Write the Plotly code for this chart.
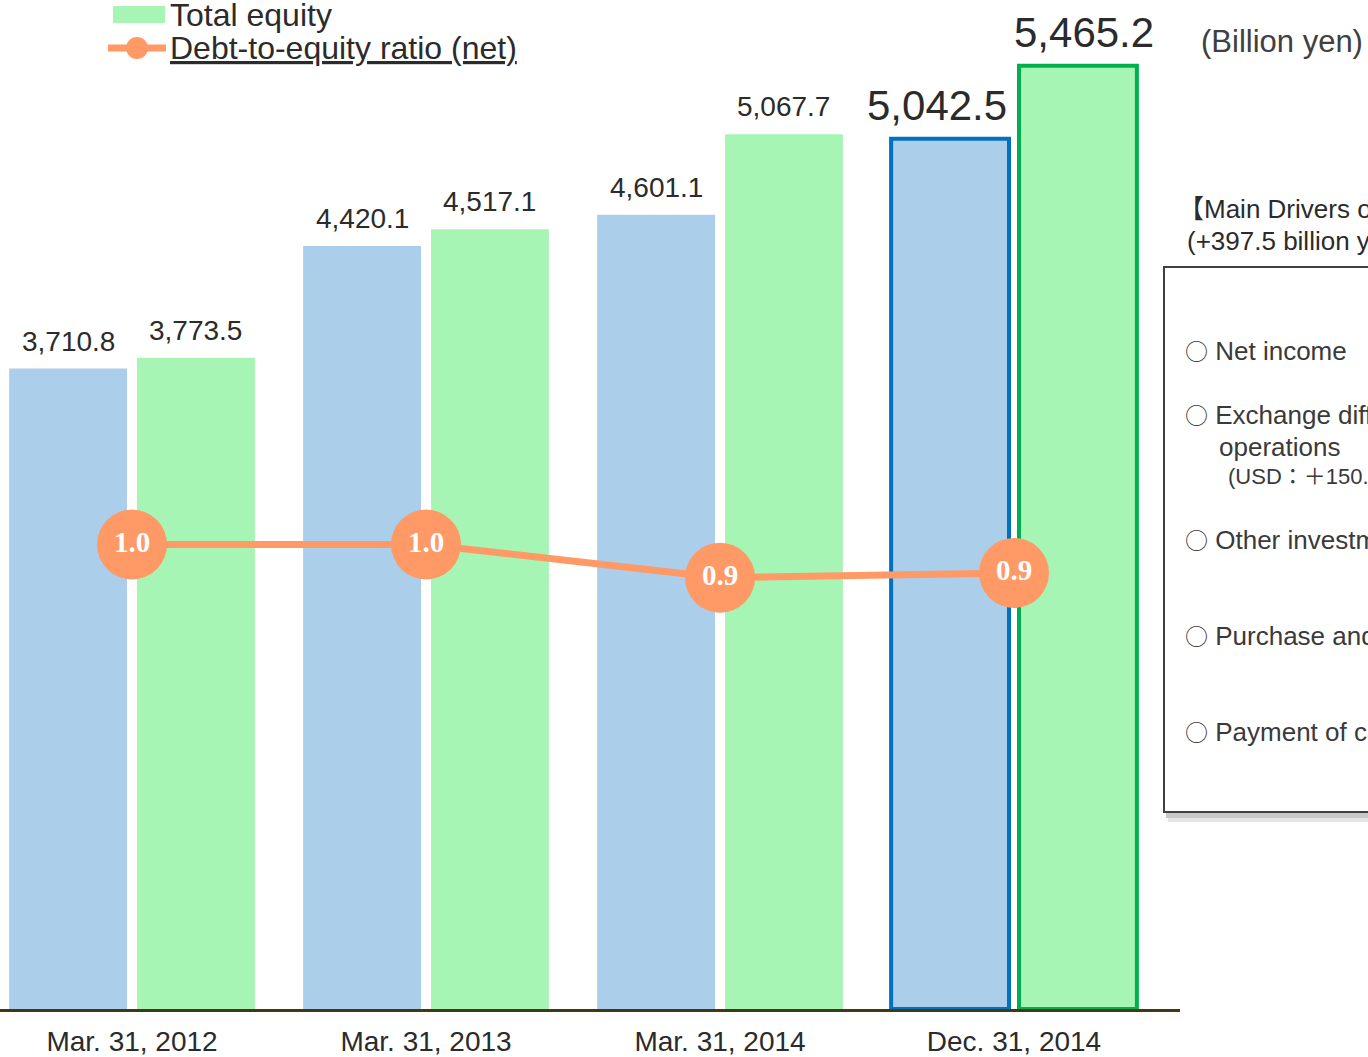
import plotly.graph_objects as go

# ---------------- data ----------------
categories = ["Mar. 31, 2012", "Mar. 31, 2013", "Mar. 31, 2014", "Dec. 31, 2014"]
debt_net = [3710.8, 4420.1, 4601.1, 5042.5]          # Interest-bearing liabilities (net)
total_equity = [3773.5, 4517.1, 5067.7, 5465.2]      # Total equity
de_ratio = [0.98, 0.98, 0.91, 0.92]                  # Debt-to-equity ratio (net)
series_names = ["Interest-bearing liabilities (net)", "Total equity", "Debt-to-equity ratio (net)"]
unit_label = "(Billion yen)"
drivers_header = ["【Main Drivers of Increase in Total Equity】",
                  "(+397.5 billion yen compared with Mar. 31, 2014)"]
drivers_items = ["Net income",
                 "Exchange differences on translating foreign",
                 "Other investments",
                 "Purchase and sale of treasury stock",
                 "Payment of cash dividends"]
drivers_sub = ["operations", "(USD：＋150."]

# ---------------- layout geometry ----------------
W, H = 1368, 1057
ML, MR, MT, MB = 0, 188, 40, 48
PW, PH = W - ML - MR, H - MT - MB
BASE = H - MB


def px(x):
    return (x - ML) / PW


def py(y):
    return (BASE - y) / PH


BLUE = "#ABCEEA"
GREEN = "#A6F5B4"
ORANGE = "#FF9966"
BLUE_EDGE = "#0070C0"
GREEN_EDGE = "#00B050"
TXT = "#2B2B2B"
FONT = "Liberation Sans, Arial, sans-serif"
CJK = "Liberation Sans, Noto Sans CJK JP, sans-serif"
CIRCLE = '<span style="font-family:Noto Sans CJK JP;font-size:23px">○</span> '

idx = list(range(len(categories)))
last = len(categories) - 1

fig = go.Figure()
fig.add_trace(go.Bar(
    x=idx, y=debt_net, name=series_names[0], width=0.401, offset=-0.418,
    marker=dict(color=BLUE,
                line=dict(color=[BLUE_EDGE] * len(idx),
                          width=[4 if i == last else 0 for i in idx])),
    showlegend=False))
fig.add_trace(go.Bar(
    x=idx, y=total_equity, name=series_names[1], width=0.401, offset=0.017,
    marker=dict(color=GREEN,
                line=dict(color=[GREEN_EDGE] * len(idx),
                          width=[4 if i == last else 0 for i in idx])),
    showlegend=False))
fig.add_trace(go.Scatter(
    x=idx, y=de_ratio, name=series_names[2], yaxis="y2",
    mode="lines+markers+text",
    line=dict(color=ORANGE, width=7),
    marker=dict(color=ORANGE, size=70),
    text=[f"<b>{v:.1f}</b>" for v in de_ratio],
    textposition="middle center",
    textfont=dict(family="Liberation Serif, Times New Roman, serif", size=29, color="white"),
    showlegend=False, cliponaxis=False))

annotations = []
# bar value labels
for i in idx:
    big = i == last
    annotations.append(dict(
        x=i - 0.418 + 0.2005, y=debt_net[i], xref="x", yref="y",
        text=f"{debt_net[i]:,.1f}", showarrow=False, yanchor="bottom",
        yshift=8 if big else 10, xshift=-13 if big else 0,
        font=dict(family=FONT, size=42 if big else 28, color=TXT)))
    annotations.append(dict(
        x=i + 0.017 + 0.2005, y=total_equity[i], xref="x", yref="y",
        text=f"{total_equity[i]:,.1f}", showarrow=False, yanchor="bottom",
        yshift=8 if big else 10, xshift=6 if big else 0,
        font=dict(family=FONT, size=42 if big else 28, color=TXT)))

# unit label
annotations.append(dict(x=px(1199), y=py(41), xref="paper", yref="paper",
                        text=unit_label, showarrow=False, xanchor="left", yanchor="middle",
                        font=dict(family=FONT, size=31, color="#404040")))

# manual legend
leg_y = [-18, 15, 48]
leg_text = [series_names[0], series_names[1], f"<u>{series_names[2]}</u>"]
for t, yy in zip(leg_text, leg_y):
    annotations.append(dict(x=px(168), y=py(yy), xref="paper", yref="paper",
                            text=t, showarrow=False, xanchor="left", yanchor="middle",
                            font=dict(family=FONT, size=32, color=TXT)))

# drivers box text
annotations.append(dict(x=px(1176), y=py(209), xref="paper", yref="paper",
                        text=drivers_header[0], showarrow=False, xanchor="left", yanchor="middle",
                        font=dict(family=CJK, size=26, color=TXT)))
annotations.append(dict(x=px(1185), y=py(241), xref="paper", yref="paper",
                        text=drivers_header[1], showarrow=False, xanchor="left", yanchor="middle",
                        font=dict(family=CJK, size=26, color=TXT)))
item_y = [350, 414, 539, 635, 731]
for t, yy in zip(drivers_items, item_y):
    annotations.append(dict(x=px(1183), y=py(yy), xref="paper", yref="paper",
                            text=CIRCLE + t, showarrow=False, xanchor="left", yanchor="middle",
                            font=dict(family=CJK, size=26, color="#3A3A3A")))
annotations.append(dict(x=px(1217), y=py(447), xref="paper", yref="paper",
                        text=drivers_sub[0], showarrow=False, xanchor="left", yanchor="middle",
                        font=dict(family=CJK, size=26, color="#3A3A3A")))
annotations.append(dict(x=px(1226), y=py(477), xref="paper", yref="paper",
                        text=drivers_sub[1], showarrow=False, xanchor="left", yanchor="middle",
                        font=dict(family=CJK, size=22, color="#3A3A3A")))

shapes = [
    # legend symbols
    dict(type="rect", xref="paper", yref="paper", x0=px(113), x1=px(165), y0=py(-9), y1=py(-26),
         fillcolor=BLUE, line=dict(width=0)),
    dict(type="rect", xref="paper", yref="paper", x0=px(113), x1=px(165), y0=py(23), y1=py(6),
         fillcolor=GREEN, line=dict(width=0)),
    dict(type="line", xref="paper", yref="paper", x0=px(108), x1=px(166), y0=py(48), y1=py(48),
         line=dict(color=ORANGE, width=7)),
    dict(type="circle", xref="paper", yref="paper", x0=px(126), x1=px(148), y0=py(59), y1=py(37),
         fillcolor=ORANGE, line=dict(width=0)),
    # drivers box soft shadow + box
    dict(type="rect", xref="paper", yref="paper", x0=px(1168), x1=px(1420), y0=py(822), y1=py(272),
         fillcolor="#E6E6E6", line=dict(width=0), layer="below"),
    dict(type="rect", xref="paper", yref="paper", x0=px(1166), x1=px(1420), y0=py(818), y1=py(270),
         fillcolor="#C8C8C8", line=dict(width=0), layer="below"),
    dict(type="rect", xref="paper", yref="paper", x0=px(1164), x1=px(1420), y0=py(812), y1=py(267),
         fillcolor="white", line=dict(color="#404040", width=2), layer="below"),
]

fig.update_layout(
    width=W, height=H,
    margin=dict(l=ML, r=MR, t=MT, b=MB, autoexpand=False),
    paper_bgcolor="white", plot_bgcolor="white",
    barmode="overlay",
    font=dict(family=FONT, color=TXT),
    xaxis=dict(range=[(0 - 132) / 294, (PW - 132) / 294], tickmode="array", tickvals=idx,
               ticktext=categories, showgrid=False, zeroline=False, showline=True,
               linecolor="#3F3A14", linewidth=3, ticks="", ticklabelstandoff=5,
               tickfont=dict(family=FONT, size=28, color=TXT), fixedrange=True),
    yaxis=dict(range=[0, PH / 0.1726], visible=False, showgrid=False, fixedrange=True),
    yaxis2=dict(range=[0, PH / 474.0], overlaying="y", visible=False, showgrid=False,
                fixedrange=True),
    annotations=annotations,
    shapes=shapes,
    showlegend=False,
)

fig.write_html("out.html",
               config={"displayModeBar": False},
               post_script="document.body.style.margin='0px';"
                           "document.body.style.overflow='hidden';")
